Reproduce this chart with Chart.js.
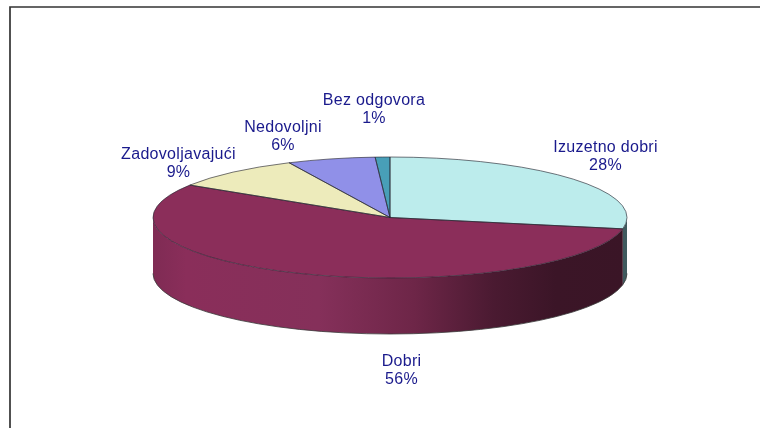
<!DOCTYPE html>
<html><head><meta charset="utf-8">
<style>html,body{margin:0;padding:0;background:#fff}#w{position:relative;width:760px;height:428px}canvas{display:block}</style>
<script src="https://cdn.jsdelivr.net/npm/chart.js@4"></script>
</head><body><div id="w"><canvas id="c" width="760" height="428"></canvas></div>
<script>
const categories = ["Izuzetno dobri", "Dobri", "Zadovoljavajući", "Nedovoljni", "Bez odgovora"];
const values = [28, 56, 9, 6, 1];
const sliceColors = ["#BCECEC", "#8B2E5A", "#EDEBBB", "#9090E8", "#489FB8"];
const wallColors = ["#3F5A5E", null, null, null, null];
const labelPos = [[605.5,147.5],[401.5,362],[178.5,154.5],[283,128],[374,101]];
const E = {cx:390, cy:217.5, rx:237, ry:60.5, depth:56};
const TEXT = "#1A1A8C";

function ellipseTransform(ctx, chart){
  const m = chart.getDatasetMeta(0).data[0];
  const r = m.outerRadius;
  ctx.translate(E.cx, E.cy);
  ctx.scale(E.rx/r, E.ry/r);
  ctx.translate(-m.x, -m.y);
}
function wallPath(ctx, a0, a1){
  ctx.beginPath();
  ctx.ellipse(E.cx, E.cy, E.rx, E.ry, 0, a0, a1);
  ctx.ellipse(E.cx, E.cy+E.depth, E.rx, E.ry, 0, a1, a0, true);
  ctx.closePath();
}
const pie3d = {
  id:'pie3d',
  beforeDatasetsDraw(chart){
    const ctx = chart.ctx, arcs = chart.getDatasetMeta(0).data;
    ctx.save();
    // frame: left and top edges only
    ctx.strokeStyle="#333"; ctx.lineWidth=1.7;
    ctx.beginPath(); ctx.moveTo(10,428); ctx.lineTo(10,7); ctx.lineTo(760,7); ctx.stroke();
    // side wall, from the library's own arc angles
    arcs.forEach((a,i)=>{
      const s = Math.max(a.startAngle,0), e = Math.min(a.endAngle,Math.PI);
      if(e<=s) return;
      let fill = wallColors[i];
      if(!fill){
        const g = ctx.createLinearGradient(E.cx-E.rx,0,E.cx+E.rx,0);
        g.addColorStop(0,"#7F2B54"); g.addColorStop(0.07,"#8A2E5A"); g.addColorStop(0.35,"#85305A");
        g.addColorStop(0.55,"#6E2648"); g.addColorStop(0.72,"#4A1A31"); g.addColorStop(0.85,"#3B1527"); g.addColorStop(1,"#3A1526");
        fill = g;
      }
      wallPath(ctx,s,e); ctx.fillStyle=fill; ctx.fill();
    });
    ctx.strokeStyle="#3a3a3a"; ctx.lineWidth=0.8;
    ctx.beginPath();
    ctx.moveTo(E.cx-E.rx,E.cy+E.depth);
    ctx.ellipse(E.cx,E.cy+E.depth,E.rx,E.ry,0,Math.PI,0,true);
    ctx.stroke();
    ctx.restore();
    ctx.save();
    ellipseTransform(ctx,chart);
  },
  afterDatasetsDraw(chart){
    const ctx = chart.ctx, arcs = chart.getDatasetMeta(0).data;
    ctx.restore();
    ctx.save();
    // slice outlines at constant line width
    arcs.forEach(a=>{
      ctx.beginPath();
      ctx.moveTo(E.cx,E.cy);
      ctx.ellipse(E.cx,E.cy,E.rx,E.ry,0,a.startAngle,a.endAngle);
      ctx.closePath();
      ctx.strokeStyle="rgba(40,40,50,.8)"; ctx.lineWidth=0.8; ctx.stroke();
    });
    // labels
    ctx.fillStyle=TEXT; ctx.font='16px "Liberation Sans", Arial, sans-serif';
    ctx.letterSpacing='0.3px';
    ctx.textAlign='center'; ctx.textBaseline='middle';
    categories.forEach((c,i)=>{
      ctx.fillText(c,labelPos[i][0],labelPos[i][1]);
      ctx.fillText(values[i]+'%',labelPos[i][0],labelPos[i][1]+18);
    });
    ctx.restore();
  }
};
new Chart(document.getElementById('c'),{
  type:'pie',
  data:{labels:categories,datasets:[{data:values,backgroundColor:sliceColors,borderWidth:0}]},
  options:{responsive:false,animation:false,rotation:0,
    plugins:{legend:{display:false},tooltip:{enabled:false},title:{display:false}}},
  plugins:[pie3d]
});
</script></body></html>
